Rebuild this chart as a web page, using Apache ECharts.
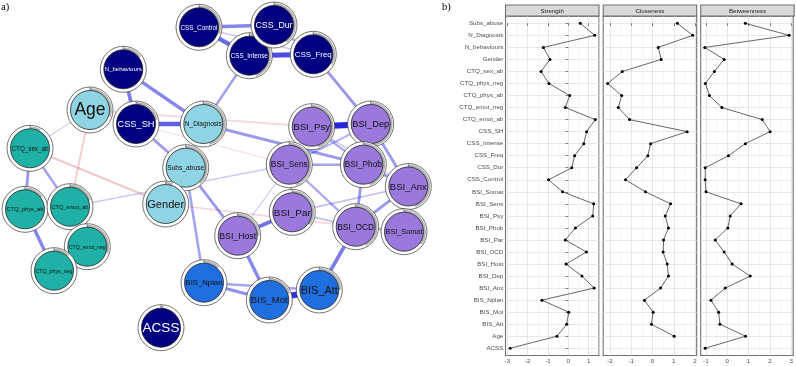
<!DOCTYPE html>
<html>
<head>
<meta charset="utf-8">
<script src="https://cdn.jsdelivr.net/npm/echarts@6/dist/echarts.min.js"></script>
<style>
	html, body { margin: 0; padding: 0; background: #fff; }
	#main { width: 796px; height: 366px; }
</style>
</head>
<body>
<div id="main"></div>
<script>
//网络图 节点 (布局坐标)
var nodeNames = ['CSS_Control', 'CSS_Intense', 'CSS_Dur', 'CSS_Freq', 'N_behaviours', 'Age', 'CSS_SH', 'N_Diagnosis',
	'Subs_abuse', 'Gender', 'CTQ_sex_ab', 'CTQ_phys_ab', 'CTQ_emot_ab', 'CTQ_emot_neg', 'CTQ_phys_neg',
	'BSI_Psy', 'BSI_Dep', 'BSI_Sens', 'BSI_Phob', 'BSI_Anx', 'BSI_Par', 'BSI_Somat', 'BSI_OCD', 'BSI_Host',
	'BIS_Nplan', 'BIS_Mot', 'BIS_Att', 'ACSS'];
var nodeX = [199, 249.3, 274, 313.3, 123.3, 90, 136, 203.3,
	185.7, 165.7, 30, 25, 70, 87.3, 54,
	311.7, 370.7, 289.3, 363.3, 408.3, 292.3, 404, 355.7, 237.7,
	204, 269.3, 319.3, 161];
var nodeY = [27.3, 55.7, 25, 54.3, 69.3, 110, 124, 124,
	167.7, 204, 148.3, 209.3, 206.7, 246.7, 270.7,
	126.7, 124, 164.7, 164.7, 186.5, 212.3, 231.7, 226.7, 235.7,
	282.7, 300, 290, 327.7];
var nodeGroup = ['css', 'css', 'css', 'css', 'css', 'demo', 'css', 'demo',
	'demo', 'demo', 'ctq', 'ctq', 'ctq', 'ctq', 'ctq',
	'bsi', 'bsi', 'bsi', 'bsi', 'bsi', 'bsi', 'bsi', 'bsi', 'bsi',
	'bis', 'bis', 'bis', 'css'];
//可预测性 (饼图比例)
var nodePie = [0.3, 0.45, 0.4, 0.33, 0.15, 0.3, 0.22, 0.45,
	0.38, 0.05, 0.08, 0.15, 0.2, 0.3, 0.12,
	0.45, 0.5, 0.45, 0.45, 0.45, 0.35, 0.35, 0.42, 0.25,
	0.12, 0.2, 0.25, 0.02];

//网络图 边 [起点, 终点, 权重]
var edgeList = [
	['BSI_Psy', 'BSI_Dep', 1.0],
	['BIS_Mot', 'BIS_Att', 0.95],
	['CSS_Intense', 'CSS_Freq', 0.8],
	['CSS_SH', 'N_Diagnosis', 0.7],
	['CSS_Control', 'CSS_Intense', 0.65],
	['BSI_Host', 'BSI_Par', 0.6],
	['N_behaviours', 'CSS_SH', 0.55],
	['BIS_Att', 'BSI_OCD', 0.55],
	['N_behaviours', 'N_Diagnosis', 0.5],
	['CSS_Control', 'CSS_Dur', 0.5],
	['BSI_Host', 'BIS_Mot', 0.5],
	['CTQ_phys_ab', 'CTQ_phys_neg', 0.5],
	['CTQ_emot_ab', 'CTQ_emot_neg', 0.5],
	['CTQ_emot_neg', 'CTQ_phys_neg', 0.5],
	['BIS_Nplan', 'BIS_Mot', 0.45],
	['CTQ_sex_ab', 'CTQ_phys_ab', 0.4],
	['CTQ_phys_ab', 'CTQ_emot_ab', 0.4],
	['CSS_SH', 'Subs_abuse', 0.4],
	['N_Diagnosis', 'BSI_Phob', 0.4],
	['CSS_Freq', 'BSI_Dep', 0.4],
	['Subs_abuse', 'BSI_Host', 0.4],
	['BSI_Phob', 'BSI_OCD', 0.4],
	['BSI_Dep', 'BSI_Anx', 0.4],
	['BSI_OCD', 'BSI_Anx', 0.4],
	['BSI_Psy', 'BSI_Sens', 0.4],
	['BSI_Anx', 'BSI_Somat', 0.4],
	['BSI_Phob', 'BSI_Anx', 0.4],
	['BSI_Dep', 'BSI_Phob', 0.4],
	['CTQ_sex_ab', 'CTQ_emot_ab', 0.35],
	['N_Diagnosis', 'CSS_Intense', 0.35],
	['Subs_abuse', 'BIS_Nplan', 0.35],
	['BIS_Nplan', 'BIS_Att', 0.35],
	['BSI_Sens', 'BSI_Phob', 0.35],
	['BSI_Sens', 'BSI_OCD', 0.3],
	['BSI_Psy', 'BSI_Phob', 0.3],
	['BSI_OCD', 'BSI_Somat', 0.3],
	['CSS_Dur', 'CSS_Intense', 0.3],
	['CSS_Dur', 'CSS_Freq', 0.3],
	['BSI_Dep', 'BSI_Sens', 0.25],
	['BSI_Par', 'BSI_Anx', 0.2],
	['BSI_Par', 'BSI_OCD', 0.2],
	['BSI_Sens', 'BSI_Par', 0.2],
	['CTQ_emot_ab', 'BSI_Sens', 0.15],
	['CSS_Control', 'CSS_Freq', 0.15],
	['BSI_Psy', 'BSI_Anx', 0.15],
	['Age', 'CTQ_sex_ab', 0.12],
	['BSI_Sens', 'BSI_Host', 0.12],
	['CTQ_sex_ab', 'Gender', -0.3],
	['Age', 'CTQ_emot_ab', -0.25],
	['Age', 'BSI_Psy', -0.2],
	['Gender', 'BSI_OCD', -0.2],
	['CSS_SH', 'BSI_Sens', -0.12]
];

//中心性指标
var centralityNames = ['Subs_abuse', 'N_Diagnosis', 'N_behaviours', 'Gender', 'CTQ_sex_ab', 'CTQ_phys_neg',
	'CTQ_phys_ab', 'CTQ_emot_neg', 'CTQ_emot_ab', 'CSS_SH', 'CSS_Intense', 'CSS_Freq', 'CSS_Dur',
	'CSS_Control', 'BSI_Somat', 'BSI_Sens', 'BSI_Psy', 'BSI_Phob', 'BSI_Par', 'BSI_OCD', 'BSI_Host',
	'BSI_Dep', 'BSI_Anx', 'BIS_Nplan', 'BIS_Mot', 'BIS_Att', 'Age', 'ACSS'];
var strengthValues = [0.59, 1.30, -1.23, -0.90, -1.34, -0.95, 0.07, -0.15, 1.33, 0.90, 0.76, 0.31, 0.17,
	-0.97, -0.28, 1.25, 1.20, 0.35, -0.15, 0.89, -0.11, 0.67, 1.27, -1.30, 0.02, -0.08, -0.56, -2.86];
var closenessValues = [1.17, 1.89, 0.27, 0.41, -1.42, -2.11, -1.45, -1.61, -1.08, 1.63, -0.09, -0.22, -0.75,
	-1.27, -0.33, 0.85, 0.60, 0.75, 0.52, 0.50, 0.69, 0.75, 0.38, -0.38, 0.03, -0.05, 1.02, null];
var betweennessValues = [0.85, 2.90, -1.05, -0.14, -0.60, -1.02, -0.83, -0.25, 1.64, 2.01, 0.85, 0.06, -1.03,
	-1.03, -0.99, 0.65, 0.14, 0.03, -0.56, -0.14, 0.23, 1.08, -0.09, -0.76, -0.40, -0.34, 0.86, -1.03];
var strengthTicks = [-3, -2, -1, 0, 1];
var closenessTicks = [-2, -1, 0, 1, 2];
var betweennessTicks = [-1, 0, 1, 2, 3];

var groupColor = {
	css: '#000080',
	demo: '#8fd4e3',
	ctq: '#1fb1a6',
	bsi: '#9a78dc',
	bis: '#1f6fe0'
};

var measureCtx = document.createElement('canvas').getContext('2d');
//节点标签字号: 适应节点宽度
function labelSize(name) {
	measureCtx.font = '10px "Liberation Sans"';
	var w = measureCtx.measureText(name).width;
	return Math.min(17.5, 10 * 37 / w);
}

function nodeIndex(name) {
	return nodeNames.indexOf(name);
}

//边
function renderEdge(params, api) {
	var p1 = api.coord([api.value(0), api.value(1)]);
	var p2 = api.coord([api.value(2), api.value(3)]);
	var w = api.value(4);
	var a = Math.abs(w);
	var color = w > 0 ?
		'rgba(0,0,213,' + (0.1 + 0.75 * a) + ')' :
		'rgba(200,20,20,' + (0.08 + 0.5 * a) + ')';
	return {
		type: 'line',
		shape: { x1: p1[0], y1: p1[1], x2: p2[0], y2: p2[1] },
		style: { stroke: color, lineWidth: 0.6 + 5.6 * a, lineCap: 'butt' }
	};
}

//节点 (带可预测性饼环)
function renderNode(params, api) {
	var i = api.value(2);
	var p = api.coord([api.value(0), api.value(1)]);
	var name = nodeNames[i];
	var g = nodeGroup[i];
	var a0 = -Math.PI / 2;
	return {
		type: 'group',
		children: [{
			type: 'circle',
			shape: { cx: p[0], cy: p[1], r: 23 },
			style: { fill: '#fff', stroke: '#3a3a3a', lineWidth: 0.7 }
		}, {
			type: 'sector',
			shape: { cx: p[0], cy: p[1], r0: 19.5, r: 21.9, startAngle: a0, endAngle: a0 + 2 * Math.PI * nodePie[i], clockwise: true },
			style: { fill: '#b3b3b3' }
		}, {
			type: 'line',
			shape: { x1: p[0], y1: p[1] - 19.5, x2: p[0], y2: p[1] - 23 },
			style: { stroke: '#555', lineWidth: 0.7 }
		}, {
			type: 'circle',
			shape: { cx: p[0], cy: p[1], r: 19.5 },
			style: { fill: groupColor[g], stroke: '#222', lineWidth: 0.8 }
		}, {
			type: 'text',
			style: {
				text: name, x: p[0], y: p[1] + 0.5, align: 'center', verticalAlign: 'middle',
				fontSize: labelSize(name), fontFamily: 'Liberation Sans',
				fill: g === 'css' ? '#ffffff' : '#111111'
			}
		}]
	};
}

function drawChart() {
	var myChart = echarts.init(document.getElementById('main'));

	var edgeData = edgeList.slice().sort(function(a, b) {
		return Math.abs(a[2]) - Math.abs(b[2]);
	}).map(function(e) {
		var s = nodeIndex(e[0]), t = nodeIndex(e[1]);
		return [nodeX[s], nodeY[s], nodeX[t], nodeY[t], e[2]];
	});
	var nodeData = nodeNames.map(function(n, i) {
		return [nodeX[i], nodeY[i], i];
	});

	//右侧三个面板
	var panels = [
		{ title: 'Strength', left: 505.5, min: -3.09, max: 1.51, values: strengthValues, ticks: strengthTicks },
		{ title: 'Closeness', left: 603.2, min: -2.32, max: 2.08, values: closenessValues, ticks: closenessTicks },
		{ title: 'Betweenness', left: 700.7, min: -1.24, max: 3.09, values: betweennessValues, ticks: betweennessTicks }
	];
	var panelTop = 16.1, panelH = 339.4, panelW = 93.5, stripTop = 5;
	var rowIdx = centralityNames.map(function(n, i) { return i; });

	var grids = [{ left: 0, top: 0, width: 460, height: 366 }];
	var xAxes = [{ gridIndex: 0, type: 'value', min: 0, max: 460, show: false }];
	var yAxes = [{ gridIndex: 0, type: 'value', min: 0, max: 366, inverse: true, show: false }];
	var series = [{
		type: 'custom', xAxisIndex: 0, yAxisIndex: 0, renderItem: renderEdge,
		encode: { x: [0, 2], y: [1, 3] }, data: edgeData, z: 1, silent: true
	}, {
		type: 'custom', xAxisIndex: 0, yAxisIndex: 0, renderItem: renderNode,
		encode: { x: 0, y: 1 }, data: nodeData, z: 2, silent: true
	}];
	var graphics = [
		{ type: 'text', x: 1, y: 2, style: { text: 'a)', fontSize: 10.5, fontFamily: 'Liberation Serif', fill: '#000' } },
		{ type: 'text', x: 442, y: 2, style: { text: 'b)', fontSize: 10.5, fontFamily: 'Liberation Serif', fill: '#000' } }
	];

	panels.forEach(function(pn, k) {
		var gi = k + 1;
		var minor = pn.ticks.map(function(t) { return t - 0.5; }).concat([pn.ticks[pn.ticks.length - 1] + 0.5]);
		grids.push({
			left: pn.left, top: panelTop, width: panelW, height: panelH,
			show: true, backgroundColor: '#fff', borderColor: '#707070', borderWidth: 1.1
		});
		xAxes.push({
			gridIndex: gi, type: 'value', min: pn.min, max: pn.max, position: 'bottom',
			axisLine: { show: false },
			axisTick: { show: true, length: 2.7, customValues: pn.ticks, lineStyle: { color: '#333', width: 0.6 } },
			axisLabel: { customValues: pn.ticks, fontSize: 6.2, fontFamily: 'Liberation Sans', color: '#4d4d4d', margin: 2.4 },
			splitLine: { show: true, lineStyle: { color: '#dedede', width: 0.7 } }
		});
		xAxes.push({
			gridIndex: gi, type: 'value', min: pn.min, max: pn.max, position: 'top',
			axisLine: { show: false },
			axisTick: { show: false, customValues: minor },
			axisLabel: { show: false },
			splitLine: { show: true, lineStyle: { color: '#ebebeb', width: 0.5 } }
		});
		yAxes.push({
			gridIndex: gi, type: 'value', min: -0.6, max: 27.6, inverse: true,
			axisLine: { show: false },
			axisTick: { show: k === 0, length: 2.7, customValues: rowIdx, lineStyle: { color: '#333', width: 0.6 } },
			axisLabel: {
				show: k === 0, customValues: rowIdx, fontSize: 6.2, fontFamily: 'Liberation Sans', color: '#4d4d4d', margin: 2.2,
				formatter: function(v) { return centralityNames[v]; }
			},
			splitLine: { show: true, lineStyle: { color: '#dedede', width: 0.7 } }
		});
		var pts = [];
		pn.values.forEach(function(v, i) {
			if (v !== null) pts.push([v, i]);
		});
		series.push({
			type: 'line', xAxisIndex: (gi - 1) * 2 + 1, yAxisIndex: gi, data: pts,
			symbol: 'circle', symbolSize: 3, showSymbol: true,
			itemStyle: { color: '#000' }, lineStyle: { color: '#000', width: 0.6 }, silent: true, z: 5
		});
		//面板标题条
		graphics.push({
			type: 'rect', shape: { x: pn.left, y: stripTop, width: panelW, height: panelTop - stripTop },
			style: { fill: '#d9d9d9', stroke: '#707070', lineWidth: 1.1 }
		});
		graphics.push({
			type: 'text', x: pn.left + panelW / 2, y: (stripTop + panelTop) / 2 + 0.3,
			style: { text: pn.title, align: 'center', verticalAlign: 'middle', fontSize: 6.2, fontFamily: 'Liberation Sans', fill: '#1a1a1a' }
		});
	});

	var option = {
		animation: false,
		backgroundColor: '#fff',
		grid: grids,
		xAxis: xAxes,
		yAxis: yAxes,
		series: series,
		graphic: graphics
	};
	myChart.setOption(option);
}

drawChart();
</script>
</body>
</html>
